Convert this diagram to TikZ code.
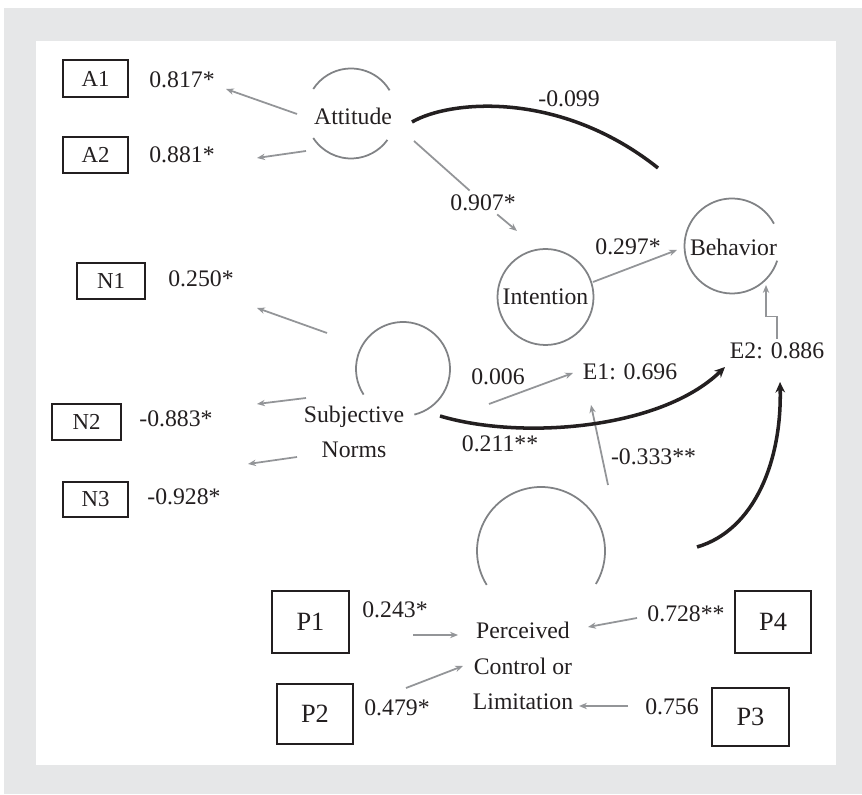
\documentclass[tikz,border=0pt]{standalone}
\usepackage{fontspec}
\setmainfont{Liberation Serif}
\usetikzlibrary{arrows.meta}

\definecolor{panelgray}{RGB}{230,231,232}
\definecolor{circgray}{RGB}{128,130,133}
\definecolor{arrgray}{RGB}{147,149,152}
\definecolor{inkblack}{RGB}{35,31,32}

\newcommand{\latentarc}[4]{\draw[latent] (#1) ++(#2:#4) arc (#2:#3:#4);}

\tikzset{
  obs/.style={draw=inkblack, line width=1.4pt, inner sep=0pt, text=inkblack, font=\fontsize{13}{15}\selectfont},
  pobs/.style={obs, font=\fontsize{15}{17}\selectfont},
  lbl/.style={inner sep=2pt, text=inkblack, font=\fontsize{13.5}{20}\selectfont},
  latent/.style={draw=circgray, line width=1pt},
  indic/.style={draw=arrgray, line width=1pt, -{Stealth[length=4.5pt,width=3.6pt]}},
  effect/.style={draw=inkblack, line width=2pt},
}

\begin{document}
\begin{tikzpicture}
	%%%%% BACKGROUND %%%%%
	\useasboundingbox (0,0) rectangle (17.24,15.88);
	\fill[panelgray] (0.08,0) rectangle (17.24,15.72);
	\fill[white] (0.72,0.58) rectangle (16.72,15.06);
	
	%%%%% LATENT VARIABLES %%%%%
	\latentarc{7.02,13.61}{31}{147}{0.90}
	\latentarc{7.02,13.61}{213}{324}{0.90}
	\node[lbl] (att) at (7.06,13.56) {Attitude};
	
	\latentarc{14.64,10.96}{28}{342}{0.95}
	\node[lbl] (beh) at (14.67,10.94) {Behavior};
	
	\node[lbl, draw=circgray, line width=1pt, circle, minimum size=1.92cm] (int) at (10.91,9.94) {Intention};
	
	\latentarc{8.06,8.50}{-76}{213}{0.94}
	\node[lbl, align=center] (sn) at (7.08,7.24) {Subjective\\Norms};
	
	\latentarc{10.82,4.86}{-31}{212}{1.28}
	\node[lbl, align=center] (pcl) at (10.46,2.56) {Perceived\\Control or\\Limitation};
	
	%%%%% INDICATORS %%%%%
	\node[obs, minimum width=1.30cm, minimum height=0.74cm] (a1) at (1.91,14.31) {A1};
	\node[obs, minimum width=1.30cm, minimum height=0.72cm] (a2) at (1.91,12.78) {A2};
	\node[obs, minimum width=1.36cm, minimum height=0.72cm] (n1) at (2.22,10.26) {N1};
	\node[obs, minimum width=1.38cm, minimum height=0.72cm] (n2) at (1.73,7.44) {N2};
	\node[obs, minimum width=1.30cm, minimum height=0.70cm] (n3) at (1.91,5.89) {N3};
	\node[pobs, minimum width=1.54cm, minimum height=1.24cm] (p1) at (6.21,3.44) {P1};
	\node[pobs, minimum width=1.52cm, minimum height=1.20cm] (p2) at (6.30,1.60) {P2};
	\node[pobs, minimum width=1.52cm, minimum height=1.24cm] (p4) at (15.46,3.44) {P4};
	\node[pobs, minimum width=1.54cm, minimum height=1.16cm] (p3) at (15.01,1.54) {P3};
	
	%%%%% ESTIMATES %%%%%
	\node[lbl] (l817) at (3.64,14.28) {0.817*};
	\node[lbl] (l881) at (3.64,12.79) {0.881*};
	\node[lbl] (l099) at (11.38,13.91) {-0.099};
	\node[lbl] (l907) at (9.66,11.83) {0.907*};
	\node[lbl] (l297) at (12.56,10.94) {0.297*};
	\node[lbl] (l250) at (4.02,10.30) {0.250*};
	\node[lbl] (l883) at (3.52,7.50) {-0.883*};
	\node[lbl] (l928) at (3.68,5.94) {-0.928*};
	\node[lbl] (l006) at (9.96,8.34) {0.006};
	\node[lbl] (e1) at (12.60,8.44) {E1: 0.696};
	\node[lbl] (e2) at (15.54,8.87) {E2: 0.886};
	\node[lbl] (l211) at (10.00,7.00) {0.211**};
	\node[lbl] (l333) at (13.07,6.74) {-0.333**};
	\node[lbl] (l243) at (7.90,3.68) {0.243*};
	\node[lbl] (l479) at (7.94,1.72) {0.479*};
	\node[lbl] (l728) at (13.72,3.60) {0.728**};
	\node[lbl] (l756) at (13.44,1.74) {0.756};
	
	%%%%% ARROW ENDS %%%%%
	\coordinate (a1s) at (5.94,13.60);   \coordinate (a1e) at (4.52,14.10);
	\coordinate (a2s) at (6.12,12.86);   \coordinate (a2e) at (5.14,12.72);
	\coordinate (n1s) at (6.54,9.22);    \coordinate (n1e) at (5.14,9.72);
	\coordinate (n2s) at (6.12,7.92);    \coordinate (n2e) at (5.14,7.80);
	\coordinate (n3s) at (5.94,6.74);    \coordinate (n3e) at (4.96,6.60);
	\coordinate (ais) at (8.28,13.06);   \coordinate (aie) at (10.34,11.26);
	\coordinate (ibs) at (11.86,10.24);  \coordinate (ibe) at (13.54,10.88);
	\coordinate (se1s) at (9.78,7.80);   \coordinate (se1e) at (11.46,8.42);
	\coordinate (pe1s) at (12.16,6.18);  \coordinate (pe1e) at (11.82,7.78);
	\coordinate (p1s) at (8.26,3.18);    \coordinate (p1e) at (9.16,3.18);
	\coordinate (p2s) at (8.12,2.12);    \coordinate (p2e) at (9.26,2.56);
	\coordinate (p4s) at (12.74,3.52);   \coordinate (p4e) at (11.76,3.34);
	\coordinate (p3s) at (12.56,1.76);   \coordinate (p3e) at (11.58,1.76);
	\coordinate (bhe) at (15.32,10.18);
	\coordinate (abs) at (8.24,13.44);   \coordinate (abe) at (13.16,12.52);
	\coordinate (se2s) at (8.80,7.56);   \coordinate (se2e) at (14.50,8.54);
	\coordinate (pe2s) at (13.94,4.94);  \coordinate (pe2e) at (15.60,8.24);
	
	%%%%% PATHS %%%%%
	\draw[indic] (a1s) -- (a1e);
	\draw[indic] (a2s) -- (a2e);
	\draw[indic] (n1s) -- (n1e);
	\draw[indic] (n2s) -- (n2e);
	\draw[indic] (n3s) -- (n3e);
	\draw[indic, -] (ais) -- (l907);
	\draw[indic] (l907) -- (aie);
	\draw[indic] (ibs) -- (ibe);
	\draw[indic] (se1s) -- (se1e);
	\draw[indic] (pe1s) -- (pe1e);
	\draw[indic] (p1s) -- (p1e);
	\draw[indic] (p2s) -- (p2e);
	\draw[indic] (p4s) -- (p4e);
	\draw[indic] (p3s) -- (p3e);
	\draw[indic] (e2.north) -- ++(0,0.44) -| (bhe);
	
	\draw[effect] (abs) .. controls (9.00,13.88) and (11.20,14.08) .. (abe);
	\draw[effect, -{Stealth[length=6pt,width=5.5pt]}] (se2s) .. controls (10.40,7.08) and (13.20,7.28) .. (se2e);
	\draw[effect, -{Stealth[length=6pt,width=5.5pt]}] (pe2s) .. controls (15.10,5.28) and (15.64,6.68) .. (pe2e);
\end{tikzpicture}
\end{document}
